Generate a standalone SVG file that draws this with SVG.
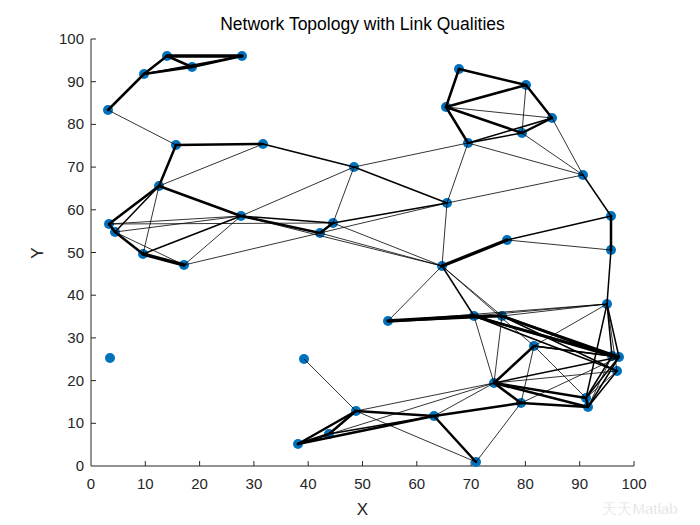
<svg xmlns="http://www.w3.org/2000/svg" width="700" height="525" viewBox="0 0 700 525">
<style>
text{font-family:"Liberation Sans",Arial,sans-serif;fill:#262626}
.tk{font-size:15px}
.ax{stroke:#262626;stroke-width:1;fill:none}
.nd{fill:#0072BD}
line{stroke:#000;stroke-linecap:round}
.t1{stroke-width:0.8}
.t2{stroke-width:1.5}
.t3{stroke-width:2.5}
.t4{stroke-width:3.4}
</style>
<rect width="700" height="525" fill="#fff"/>
<g id="axes">
<path class="ax" d="M91,39V466H634"/>
<path class="ax" d="M145.3,466v-5M199.6,466v-5M253.9,466v-5M308.2,466v-5M362.5,466v-5M416.8,466v-5M471.1,466v-5M525.4,466v-5M579.7,466v-5M634,466v-5M91,423.3h5M91,380.6h5M91,337.9h5M91,295.2h5M91,252.5h5M91,209.8h5M91,167.1h5M91,124.4h5M91,81.7h5M91,39h5"/>
<g class="tk" text-anchor="middle">
<text x="91" y="489">0</text><text x="145.3" y="489">10</text><text x="199.6" y="489">20</text><text x="253.9" y="489">30</text><text x="308.2" y="489">40</text><text x="362.5" y="489">50</text><text x="416.8" y="489">60</text><text x="471.1" y="489">70</text><text x="525.4" y="489">80</text><text x="579.7" y="489">90</text><text x="634" y="489">100</text>
</g>
<g class="tk" text-anchor="end">
<text x="84" y="471">0</text><text x="84" y="428.3">10</text><text x="84" y="385.6">20</text><text x="84" y="342.9">30</text><text x="84" y="300.2">40</text><text x="84" y="257.5">50</text><text x="84" y="214.8">60</text><text x="84" y="172.1">70</text><text x="84" y="129.4">80</text><text x="84" y="86.7">90</text><text x="84" y="44">100</text>
</g>
<text x="362.5" y="515" font-size="17" text-anchor="middle">X</text>
<text x="43" y="253" font-size="17" text-anchor="middle" transform="rotate(-90 43 253)">Y</text>
<text x="362.5" y="30" font-size="17.5" text-anchor="middle" style="fill:#000">Network Topology with Link Qualities</text>
</g>
<g id="nodes">
<circle id="n1" class="nd" cx="108" cy="110" r="5"/>
<circle id="n2" class="nd" cx="144" cy="74" r="5"/>
<circle id="n3" class="nd" cx="167" cy="56" r="5"/>
<circle id="n4" class="nd" cx="192" cy="67" r="5"/>
<circle id="n5" class="nd" cx="242" cy="56" r="5"/>
<circle id="n6" class="nd" cx="176" cy="145" r="5"/>
<circle id="n7" class="nd" cx="263" cy="144" r="5"/>
<circle id="n8" class="nd" cx="159" cy="186" r="5"/>
<circle id="n9" class="nd" cx="109" cy="224" r="5"/>
<circle id="n10" class="nd" cx="115" cy="232" r="5"/>
<circle id="n11" class="nd" cx="143" cy="254" r="5"/>
<circle id="n12" class="nd" cx="184" cy="265" r="5"/>
<circle id="n13" class="nd" cx="241" cy="216" r="5"/>
<circle id="n14" class="nd" cx="320" cy="233" r="5"/>
<circle id="n15" class="nd" cx="333" cy="223" r="5"/>
<circle id="n16" class="nd" cx="459" cy="69" r="5"/>
<circle id="n17" class="nd" cx="526" cy="85" r="5"/>
<circle id="n18" class="nd" cx="446" cy="107" r="5"/>
<circle id="n19" class="nd" cx="552" cy="118" r="5"/>
<circle id="n20" class="nd" cx="522" cy="133" r="5"/>
<circle id="n21" class="nd" cx="468" cy="143" r="5"/>
<circle id="n22" class="nd" cx="354" cy="167" r="5"/>
<circle id="n23" class="nd" cx="583" cy="175" r="5"/>
<circle id="n24" class="nd" cx="447" cy="203" r="5"/>
<circle id="n25" class="nd" cx="611" cy="216" r="5"/>
<circle id="n26" class="nd" cx="507" cy="240" r="5"/>
<circle id="n27" class="nd" cx="611" cy="250" r="5"/>
<circle id="n28" class="nd" cx="442" cy="266" r="5"/>
<circle id="n29" class="nd" cx="607" cy="304" r="5"/>
<circle id="n30" class="nd" cx="388" cy="321" r="5"/>
<circle id="n31" class="nd" cx="474" cy="316" r="5"/>
<circle id="n32" class="nd" cx="502" cy="316" r="5"/>
<circle id="n33" class="nd" cx="534" cy="346" r="5"/>
<circle id="n34" class="nd" cx="612" cy="356" r="5"/>
<circle id="n35" class="nd" cx="619" cy="357" r="5"/>
<circle id="n36" class="nd" cx="617" cy="371" r="5"/>
<circle id="n37" class="nd" cx="494" cy="383" r="5"/>
<circle id="n38" class="nd" cx="521" cy="403" r="5"/>
<circle id="n39" class="nd" cx="586" cy="398" r="5"/>
<circle id="n40" class="nd" cx="588" cy="407" r="5"/>
<circle id="n41" class="nd" cx="434" cy="416" r="5"/>
<circle id="n42" class="nd" cx="476" cy="462" r="5"/>
<circle id="n43" class="nd" cx="110" cy="358" r="5"/>
<circle id="n44" class="nd" cx="304" cy="359" r="5"/>
<circle id="n45" class="nd" cx="356" cy="411" r="5"/>
<circle id="n46" class="nd" cx="329" cy="434" r="5"/>
<circle id="n47" class="nd" cx="298" cy="444" r="5"/>
</g>
<g id="connectors">
<line class="t3" x1="108" y1="110" x2="144" y2="74"/>
<line class="t3" x1="144" y1="74" x2="167" y2="56"/>
<line class="t3" x1="144" y1="74" x2="192" y2="67"/>
<line class="t3" x1="192" y1="67" x2="242" y2="56"/>
<line class="t2" x1="144" y1="74" x2="242" y2="56"/>
<line class="t4" x1="167" y1="56" x2="242" y2="56"/>
<line class="t3" x1="167" y1="56" x2="192" y2="67"/>
<line class="t1" x1="108" y1="110" x2="176" y2="145"/>
<line class="t3" x1="176" y1="145" x2="263" y2="144"/>
<line class="t3" x1="176" y1="145" x2="159" y2="186"/>
<line class="t2" x1="263" y1="144" x2="354" y2="167"/>
<line class="t1" x1="159" y1="186" x2="263" y2="144"/>
<line class="t3" x1="159" y1="186" x2="241" y2="216"/>
<line class="t3" x1="159" y1="186" x2="109" y2="224"/>
<line class="t2" x1="159" y1="186" x2="115" y2="232"/>
<line class="t1" x1="159" y1="186" x2="143" y2="254"/>
<line class="t3" x1="109" y1="224" x2="115" y2="232"/>
<line class="t3" x1="115" y1="232" x2="143" y2="254"/>
<line class="t4" x1="143" y1="254" x2="184" y2="265"/>
<line class="t1" x1="115" y1="232" x2="184" y2="265"/>
<line class="t1" x1="109" y1="224" x2="241" y2="216"/>
<line class="t1" x1="115" y1="232" x2="241" y2="216"/>
<line class="t1" x1="109" y1="224" x2="333" y2="223"/>
<line class="t2" x1="143" y1="254" x2="241" y2="216"/>
<line class="t1" x1="184" y1="265" x2="241" y2="216"/>
<line class="t1" x1="184" y1="265" x2="320" y2="233"/>
<line class="t3" x1="241" y1="216" x2="320" y2="233"/>
<line class="t2" x1="241" y1="216" x2="333" y2="223"/>
<line class="t3" x1="320" y1="233" x2="333" y2="223"/>
<line class="t1" x1="241" y1="216" x2="354" y2="167"/>
<line class="t1" x1="333" y1="223" x2="354" y2="167"/>
<line class="t2" x1="354" y1="167" x2="447" y2="203"/>
<line class="t1" x1="354" y1="167" x2="468" y2="143"/>
<line class="t1" x1="468" y1="143" x2="447" y2="203"/>
<line class="t1" x1="468" y1="143" x2="583" y2="175"/>
<line class="t1" x1="447" y1="203" x2="583" y2="175"/>
<line class="t3" x1="468" y1="143" x2="446" y2="107"/>
<line class="t3" x1="446" y1="107" x2="459" y2="69"/>
<line class="t3" x1="459" y1="69" x2="526" y2="85"/>
<line class="t3" x1="446" y1="107" x2="526" y2="85"/>
<line class="t1" x1="446" y1="107" x2="552" y2="118"/>
<line class="t3" x1="446" y1="107" x2="522" y2="133"/>
<line class="t1" x1="526" y1="85" x2="522" y2="133"/>
<line class="t3" x1="526" y1="85" x2="552" y2="118"/>
<line class="t3" x1="552" y1="118" x2="522" y2="133"/>
<line class="t2" x1="468" y1="143" x2="552" y2="118"/>
<line class="t2" x1="468" y1="143" x2="522" y2="133"/>
<line class="t1" x1="522" y1="133" x2="583" y2="175"/>
<line class="t1" x1="552" y1="118" x2="583" y2="175"/>
<line class="t2" x1="583" y1="175" x2="611" y2="216"/>
<line class="t1" x1="447" y1="203" x2="442" y2="266"/>
<line class="t2" x1="333" y1="223" x2="447" y2="203"/>
<line class="t1" x1="320" y1="233" x2="447" y2="203"/>
<line class="t1" x1="333" y1="223" x2="442" y2="266"/>
<line class="t1" x1="320" y1="233" x2="442" y2="266"/>
<line class="t1" x1="241" y1="216" x2="442" y2="266"/>
<line class="t4" x1="442" y1="266" x2="507" y2="240"/>
<line class="t2" x1="507" y1="240" x2="611" y2="216"/>
<line class="t1" x1="507" y1="240" x2="611" y2="250"/>
<line class="t3" x1="611" y1="216" x2="611" y2="250"/>
<line class="t2" x1="611" y1="250" x2="607" y2="304"/>
<line class="t1" x1="442" y1="266" x2="388" y2="321"/>
<line class="t1" x1="442" y1="266" x2="502" y2="316"/>
<line class="t2" x1="442" y1="266" x2="474" y2="316"/>
<line class="t1" x1="442" y1="266" x2="534" y2="346"/>
<line class="t4" x1="388" y1="321" x2="474" y2="316"/>
<line class="t3" x1="388" y1="321" x2="502" y2="316"/>
<line class="t1" x1="388" y1="321" x2="607" y2="304"/>
<line class="t1" x1="474" y1="316" x2="607" y2="304"/>
<line class="t1" x1="502" y1="316" x2="607" y2="304"/>
<line class="t3" x1="474" y1="316" x2="502" y2="316"/>
<line class="t3" x1="474" y1="316" x2="612" y2="356"/>
<line class="t3" x1="474" y1="316" x2="619" y2="357"/>
<line class="t3" x1="502" y1="316" x2="612" y2="356"/>
<line class="t3" x1="502" y1="316" x2="619" y2="357"/>
<line class="t2" x1="502" y1="316" x2="617" y2="371"/>
<line class="t2" x1="474" y1="316" x2="617" y2="371"/>
<line class="t2" x1="534" y1="346" x2="612" y2="356"/>
<line class="t2" x1="534" y1="346" x2="619" y2="357"/>
<line class="t2" x1="607" y1="304" x2="612" y2="356"/>
<line class="t2" x1="607" y1="304" x2="619" y2="357"/>
<line class="t1" x1="607" y1="304" x2="617" y2="371"/>
<line class="t1" x1="607" y1="304" x2="534" y2="346"/>
<line class="t2" x1="607" y1="304" x2="586" y2="398"/>
<line class="t1" x1="474" y1="316" x2="494" y2="383"/>
<line class="t1" x1="502" y1="316" x2="494" y2="383"/>
<line class="t3" x1="534" y1="346" x2="494" y2="383"/>
<line class="t1" x1="534" y1="346" x2="521" y2="403"/>
<line class="t1" x1="534" y1="346" x2="586" y2="398"/>
<line class="t3" x1="494" y1="383" x2="521" y2="403"/>
<line class="t3" x1="494" y1="383" x2="586" y2="398"/>
<line class="t3" x1="494" y1="383" x2="588" y2="407"/>
<line class="t2" x1="494" y1="383" x2="619" y2="357"/>
<line class="t1" x1="494" y1="383" x2="617" y2="371"/>
<line class="t3" x1="521" y1="403" x2="588" y2="407"/>
<line class="t1" x1="521" y1="403" x2="619" y2="357"/>
<line class="t2" x1="586" y1="398" x2="612" y2="356"/>
<line class="t2" x1="586" y1="398" x2="619" y2="357"/>
<line class="t2" x1="588" y1="407" x2="619" y2="357"/>
<line class="t2" x1="588" y1="407" x2="617" y2="371"/>
<line class="t1" x1="586" y1="398" x2="617" y2="371"/>
<line class="t1" x1="588" y1="407" x2="612" y2="356"/>
<line class="t3" x1="586" y1="398" x2="588" y2="407"/>
<line class="t1" x1="494" y1="383" x2="434" y2="416"/>
<line class="t1" x1="494" y1="383" x2="356" y2="411"/>
<line class="t3" x1="521" y1="403" x2="434" y2="416"/>
<line class="t1" x1="521" y1="403" x2="476" y2="462"/>
<line class="t3" x1="434" y1="416" x2="476" y2="462"/>
<line class="t3" x1="434" y1="416" x2="356" y2="411"/>
<line class="t3" x1="434" y1="416" x2="298" y2="444"/>
<line class="t2" x1="329" y1="434" x2="434" y2="416"/>
<line class="t3" x1="329" y1="434" x2="356" y2="411"/>
<line class="t3" x1="298" y1="444" x2="329" y2="434"/>
<line class="t3" x1="298" y1="444" x2="356" y2="411"/>
<line class="t1" x1="304" y1="359" x2="356" y2="411"/>
<line class="t1" x1="356" y1="411" x2="476" y2="462"/>
<line class="t1" x1="298" y1="444" x2="494" y2="383"/>
</g>
<text x="640" y="514" font-size="15" text-anchor="middle" style="fill:#d0d0d0;stroke:#fff;stroke-width:0.5">天天Matlab</text>
</svg>
